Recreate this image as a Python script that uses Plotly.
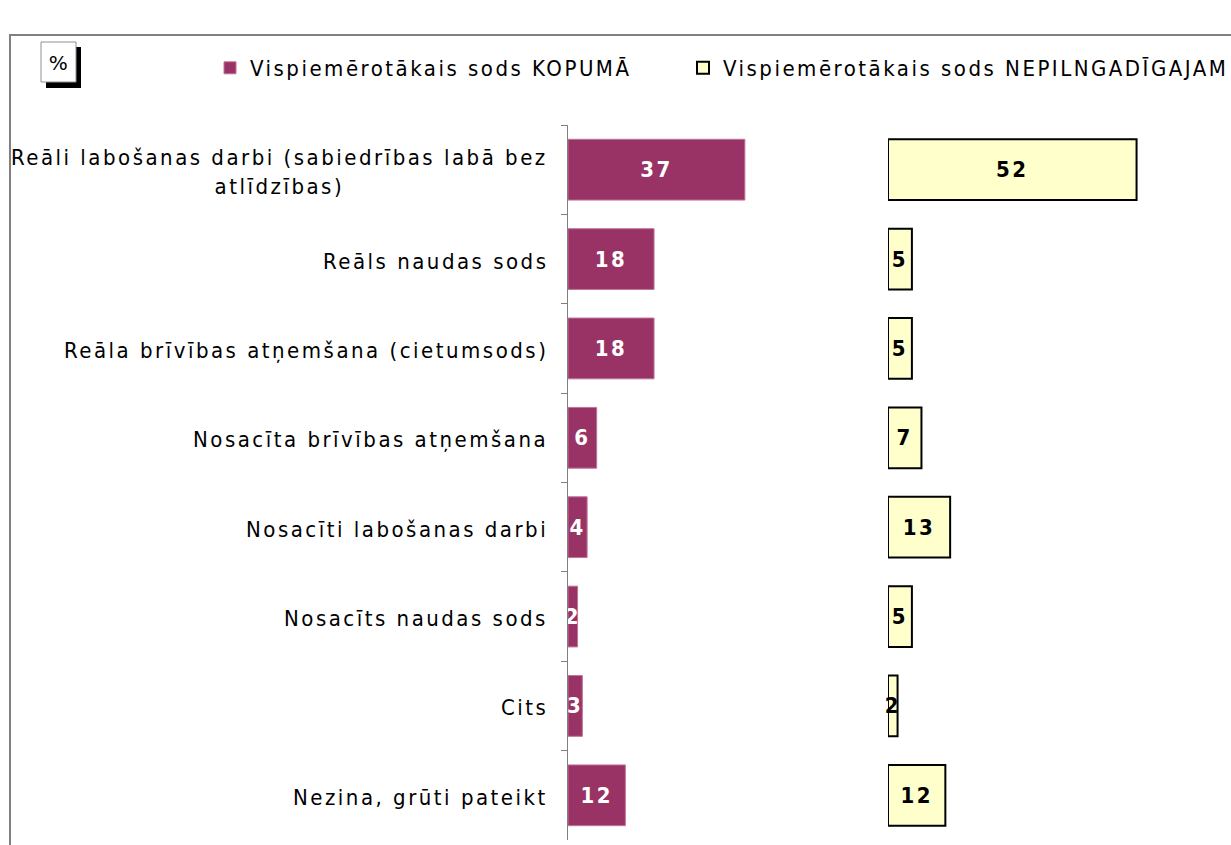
import plotly.graph_objects as go

categories = [
    "Reāli labošanas darbi (sabiedrības labā bez<br>atlīdzības)",
    "Reāls naudas sods",
    "Reāla brīvības atņemšana (cietumsods)",
    "Nosacīta brīvības atņemšana",
    "Nosacīti labošanas darbi",
    "Nosacīts naudas sods",
    "Cits",
    "Nezina, grūti pateikt",
]
kopuma = [37, 18, 18, 6, 4, 2, 3, 12]
nepilngadigajam = [52, 5, 5, 7, 13, 5, 2, 12]
series_names = ["Vispiemērotākais sods KOPUMĀ", "Vispiemērotākais sods NEPILNGADĪGAJAM"]

W, H = 1231, 845
FONT = "DejaVu Sans Condensed, DejaVu Sans"
FS = 22
PX_PER_UNIT = 4.78
AX1_LEFT, AX2_LEFT = 568, 888
PLOT_TOP, PLOT_BOTTOM = 125, 840

def px(x):
    return x / W

def py(y):
    return 1 - y / H

fig = go.Figure()
fig.add_trace(go.Bar(
    name=series_names[0], orientation="h", y=categories, x=kopuma,
    xaxis="x", yaxis="y", legend="legend",
    marker=dict(color="#993366", line=dict(color="#c0739a", width=1)),
    texttemplate="<b>%{x}</b>", textposition="inside", insidetextanchor="middle",
    textangle=0, textfont=dict(family=FONT, size=FS, color="white"),
    cliponaxis=False,
))
fig.add_trace(go.Bar(
    name=series_names[1], orientation="h", y=categories, x=nepilngadigajam,
    xaxis="x2", yaxis="y2", legend="legend2",
    marker=dict(color="#FFFFCC", line=dict(color="black", width=2)),
    texttemplate="<b>%{x}</b>", textposition="inside", insidetextanchor="middle",
    textangle=0, textfont=dict(family=FONT, size=FS, color="black"),
    cliponaxis=False,
))

ydomain = [py(PLOT_BOTTOM), py(PLOT_TOP)]
legend_common = dict(orientation="h", y=py(68), xanchor="left", yanchor="middle",
                     font=dict(family=FONT, size=FS, color="black"),
                     bgcolor="rgba(0,0,0,0)")
fig.update_layout(
    width=W, height=H,
    margin=dict(l=0, r=0, t=0, b=0, autoexpand=False),
    paper_bgcolor="white", plot_bgcolor="white",
    bargap=0.32,
    uniformtext=dict(minsize=FS, mode="show"),
    font=dict(family=FONT, size=FS, color="black"),
    xaxis=dict(domain=[px(AX1_LEFT), px(AX2_LEFT)], range=[0, (AX2_LEFT - AX1_LEFT) / PX_PER_UNIT],
               visible=False, anchor="y"),
    xaxis2=dict(domain=[px(AX2_LEFT), 1], range=[0, (W - AX2_LEFT) / PX_PER_UNIT],
                visible=False, anchor="y2"),
    yaxis=dict(domain=ydomain, anchor="x", type="category", range=[7.5, -0.5],
               showline=True, linecolor="#808080", linewidth=1,
               ticks="outside", tickson="boundaries", ticklen=6, tickcolor="#808080",
               showticklabels=False, showgrid=False, zeroline=False),
    yaxis2=dict(domain=ydomain, anchor="x2", type="category", range=[7.5, -0.5],
                visible=False),
    showlegend=True,
    legend=dict(x=px(210), **legend_common),
    legend2=dict(x=px(683), **legend_common),
)

# category labels (centered multi-line, right edge near axis)
for c in categories:
    fig.add_annotation(x=px(550), xref="paper", y=c, yref="y", text=c, yshift=-2,
                       xanchor="right", yanchor="middle", align="center",
                       showarrow=False, font=dict(family=FONT, size=FS, color="black"))

# outer chart border (cropped)
fig.add_shape(type="rect", xref="paper", yref="paper",
              x0=px(10), x1=1.05, y0=-0.05, y1=py(35),
              line=dict(color="#808080", width=2), fillcolor="rgba(0,0,0,0)", layer="below")

# "%" box with shadow
fig.add_shape(type="rect", xref="paper", yref="paper",
              x0=px(46), x1=px(81), y0=py(88), y1=py(47),
              line=dict(width=0), fillcolor="black")
fig.add_shape(type="rect", xref="paper", yref="paper",
              x0=px(41), x1=px(76), y0=py(82), y1=py(42),
              line=dict(color="#909090", width=1), fillcolor="white")
fig.add_annotation(x=px(59), y=py(63), xref="paper", yref="paper", text="%",
                   showarrow=False, xanchor="center", yanchor="middle",
                   font=dict(family="DejaVu Sans", size=20, color="black"))

post = """
var st = document.createElement('style');
st.textContent = 'html,body{margin:0;padding:0;overflow:hidden;} svg text{letter-spacing:2.5px;}';
document.head.appendChild(st);
var gd = document.getElementById('{plot_id}');
var d = JSON.parse(JSON.stringify(gd.data).split('"size":22').join('"size":22.01'));
var l = JSON.parse(JSON.stringify(gd.layout).split('"size":22').join('"size":22.01'));
Plotly.purge(gd);
Plotly.newPlot(gd, d, l, {displayModeBar:false});
"""
fig.write_html("out.html", post_script=post)
